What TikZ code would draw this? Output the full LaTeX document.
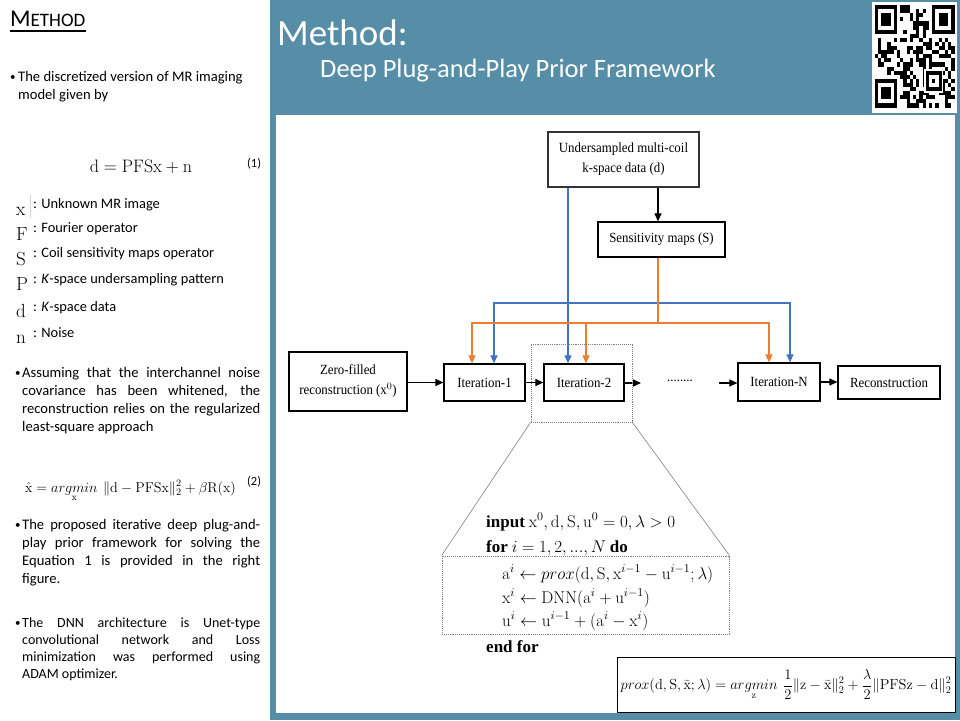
\RequirePackage{fix-cm}
\documentclass[tikz,border=0pt]{standalone}
\usepackage[no-math]{fontspec}
\setmainfont{Carlito}
\newfontfamily\diagfont[FakeStretch=0.92]{Liberation Serif}
\newfontfamily\tmsfont{Liberation Serif}
\usetikzlibrary{arrows.meta}
\definecolor{panelblue}{RGB}{86,142,168}
\definecolor{lnblue}{RGB}{68,114,196}
\definecolor{lnorange}{RGB}{237,125,49}
\newcommand{\kw}[1]{\mbox{\tmsfont\bfseries #1}}
\tikzset{
  boxn/.style={draw=black, line width=1.2pt, inner sep=0pt, align=center,
    font=\diagfont\fontsize{14}{20}\selectfont},
  blk/.style={line width=1.1pt, -{Triangle[length=8pt,width=7pt]}},
  bl/.style={draw=lnblue, line width=1.1pt, -{Triangle[length=8pt,width=7pt]}},
  orl/.style={draw=lnorange, line width=1.1pt, -{Triangle[length=8pt,width=7pt]}},
  lt/.style={anchor=base west, inner sep=0pt, font=\fontsize{14.6}{16}\selectfont},
  lts/.style={anchor=base west, inner sep=0pt, font=\fontsize{14.4}{16}\selectfont},
  ltd/.style={anchor=base west, inner sep=0pt, font=\fontsize{14}{16}\selectfont},
  bul/.style={anchor=base west, inner sep=0pt, font=\fontsize{11}{12}\selectfont},
  sym/.style={anchor=base west, inner sep=0pt, font=\fontsize{19}{20}\selectfont},
  alg/.style={anchor=base west, inner sep=0pt, font=\fontsize{17}{20}\selectfont},
  dotbox/.style={draw=gray, densely dotted, line width=0.9pt, inner sep=0pt},
}
\begin{document}
\begin{tikzpicture}[x=1pt,y=-1pt]
\useasboundingbox (0,0) rectangle (960,720);
\fill[white] (0,0) rectangle (270,720);
\fill[panelblue] (270,0) rectangle (960,720);
\fill[white] (276,115) rectangle (955,713);

% header
\node[anchor=base west, inner sep=0pt, text=white, font=\fontsize{37}{40}\selectfont] (hm) at (277,45) {Method:};
\node[anchor=base west, inner sep=0pt, text=white, font=\fontsize{26.5}{30}\selectfont] (hs) at (320,77) {Deep Plug-and-Play Prior Framework};

% QR code
\fill[white] (872,2) rectangle (957,113);
\begin{scope}[shift={(874.5,5)}, x=3.2pt, y=-4.1pt]
  \pgfmathsetseed{42}
  \foreach \i in {0,...,24}{\foreach \j in {0,...,24}{%
    \pgfmathtruncatemacro\r{rnd<0.47}%
    \ifnum\r=1 \fill (\i,\j) rectangle ++(1,1);\fi}}
  \fill[white] (0,0) rectangle (8,8);
  \fill[white] (17,0) rectangle (25,8);
  \fill[white] (0,17) rectangle (8,25);
  \foreach \a/\b in {0/0,18/0,0/18}{%
    \fill (\a,\b) rectangle ++(7,7);
    \fill[white] (\a+1,\b+1) rectangle ++(5,5);
    \fill (\a+2,\b+2) rectangle ++(3,3);}
  \fill[white] (15.5,15.5) rectangle (21.5,21.5);
  \fill (16,16) rectangle ++(5,5);
  \fill[white] (17,17) rectangle ++(3,3);
  \fill (18,18) rectangle ++(1,1);
\end{scope}

% left panel
\node[anchor=base west, inner sep=0pt] (mt) at (10,27) {{\fontsize{24}{26}\selectfont M}{\fontsize{19}{22}\selectfont ETHOD}};
\draw[line width=1.2pt] (10,31) -- (86,31);

\node[bul] (b1a) at (10,80) {\textbullet};
\node[lt] (t1a) at (18,81) {The discretized version of MR imaging};
\node[lt] (t1b) at (18,99) {model given by};

\node[anchor=base, inner sep=0pt, font=\fontsize{18}{20}\selectfont] (eq1) at (141,172) {$\mathrm{d}=\mathrm{PFSx}+\mathrm{n}$};
\node[anchor=base west, inner sep=0pt, font=\fontsize{12.5}{14}\selectfont] (n1) at (247,167) {(1)};

\node[sym] (sx) at (16,215) {$\mathrm{x}$};
\draw[gray!35, line width=0.6pt] (30,195) -- (30,218);
\node[lts] (dx) at (33,208) {: Unknown MR image};
\node[sym] (sF) at (16,240) {$\mathrm{F}$};
\node[lts] (dF) at (33,232) {: Fourier operator};
\node[sym] (sS) at (16,265) {$\mathrm{S}$};
\node[lts] (dS) at (33,257) {: Coil sensitivity maps operator};
\node[sym] (sP) at (16,290) {$\mathrm{P}$};
\node[lts] (dP) at (33,283) {: \textit{K}-space undersampling pattern};
\node[sym] (sd) at (16,317) {$\mathrm{d}$};
\node[lts] (dd) at (33,311) {: \textit{K}-space data};
\node[sym] (sn) at (16,343) {$\mathrm{n}$};
\node[lts] (dn) at (33,337) {: Noise};

\node[bul] (b2) at (15,376) {\textbullet};
\node[lt] (t2a) at (22,377) {\makebox[238pt][s]{Assuming that the interchannel noise}};
\node[lt] (t2b) at (22,395) {\makebox[238pt][s]{covariance has been whitened, the}};
\node[lt] (t2c) at (22,413) {\makebox[238pt][s]{reconstruction relies on the regularized}};
\node[lt] (t2d) at (22,431) {least-square approach};

\node[anchor=base west, inner sep=0pt, font=\fontsize{14.2}{16}\selectfont] (eq2) at (25,492)
  {$\hat{\mathrm{x}}=\mathop{argmin}\limits_{\mathrm{x}}\ \|\mathrm{d}-\mathrm{PFSx}\|_2^2+\beta\mathrm{R}(\mathrm{x})$};
\node[anchor=base west, inner sep=0pt, font=\fontsize{12.5}{14}\selectfont] (n2) at (247,485) {(2)};

\node[bul] (b3) at (15,528) {\textbullet};
\node[lt] (t3a) at (22,529) {\makebox[238pt][s]{The proposed iterative deep plug-and-}};
\node[lt] (t3b) at (22,547) {\makebox[238pt][s]{play prior framework for solving the}};
\node[lt] (t3c) at (22,565) {\makebox[238pt][s]{Equation 1 is provided in the right}};
\node[lt] (t3d) at (22,583) {figure.};

\node[bul] (b4) at (15,626) {\textbullet};
\node[ltd] (t4a) at (22,627) {\makebox[238pt][s]{The DNN architecture is Unet-type}};
\node[ltd] (t4b) at (22,644) {\makebox[238pt][s]{convolutional network and Loss}};
\node[ltd] (t4c) at (22,661) {\makebox[238pt][s]{minimization was performed using}};
\node[ltd] (t4d) at (22,678) {ADAM optimizer.};

% diagram nodes
\node[boxn, draw=black!80, line width=1.5pt, minimum width=151pt, minimum height=55pt] (kd) at (623.5,159.5) {Undersampled multi-coil\\k-space data (d)};
\node[boxn, minimum width=127pt, minimum height=35pt] (sm) at (661.5,239.5) {Sensitivity maps (S)};
\node[boxn, minimum width=118pt, minimum height=59pt] (zf) at (348,381.5) {Zero-filled\\reconstruction (x$^0$)};
\node[boxn, minimum width=81pt, minimum height=37pt] (it1) at (484.5,382.5) {Iteration-1};
\node[boxn, minimum width=80pt, minimum height=37pt] (it2) at (584,382.5) {Iteration-2};
\node[boxn, minimum width=82pt, minimum height=38pt] (itn) at (779,382) {Iteration-N};
\node[boxn, minimum width=102pt, minimum height=33pt] (rec) at (889,382.5) {Reconstruction};
\node[inner sep=0pt, font=\diagfont\fontsize{14}{16}\selectfont] (dots) at (680,381) {........};

\coordinate (ox) at (658,0);
\coordinate (bx) at (568,0);
\coordinate (b1) at (494,0);
\coordinate (o1) at (472,0);
\coordinate (o2) at (586,0);
\coordinate (bn) at (790,0);
\coordinate (on) at (769,0);
\coordinate (jb) at (568,303);
\coordinate (jo) at (658,323);
\coordinate (da) at (641,383);
\coordinate (db) at (719,383);

\draw[blk] (kd.south -| ox) -- (sm.north -| ox);
\draw[bl] (kd.south -| bx) -- (it2.north -| bx);
\draw[bl] (jb) -| (it1.north -| b1);
\draw[bl] (jb) -| (itn.north -| bn);
\draw[orl] (sm.south -| ox) -- (jo) -| (it1.north -| o1);
\draw[orl] (jo) -| (it2.north -| o2);
\draw[orl] (jo) -| (itn.north -| on);

\draw[blk] (zf.east |- it1.west) -- (it1.west);
\draw[blk] (it1.east) -- (it2.west);
\draw[blk] (it2.east |- da) -- (da);
\draw[blk] (db) -- (itn.west |- db);
\draw[blk] (itn.east) -- (rec.west |- itn.east);

% zoom box and algorithm
\node[dotbox, minimum width=101pt, minimum height=78pt] (zb) at (581.5,383) {};
\node[dotbox, minimum width=287pt, minimum height=78pt] (ab) at (585.5,595) {};
\draw[gray, line width=0.6pt] (zb.south west) -- (ab.north west);
\draw[gray, line width=0.6pt] (zb.south east) -- (ab.north east);

\node[alg] (a0) at (486,527) {$\kw{input}\ \mathrm{x}^0,\mathrm{d},\mathrm{S},\mathrm{u}^0=0,\lambda>0$};
\node[alg] (a1) at (486,552) {$\kw{for}\ i=1,2,...,N\ \kw{do}$};
\node[alg] (a2) at (502,579) {$\mathrm{a}^i\leftarrow prox(\mathrm{d},\mathrm{S},\mathrm{x}^{i-1}-\mathrm{u}^{i-1};\lambda)$};
\node[alg] (a3) at (502,603) {$\mathrm{x}^i\leftarrow\mathrm{DNN}(\mathrm{a}^i+\mathrm{u}^{i-1})$};
\node[alg] (a4) at (502,626) {$\mathrm{u}^i\leftarrow\mathrm{u}^{i-1}+(\mathrm{a}^i-\mathrm{x}^i)$};
\node[alg] (a5) at (486,652) {\kw{end for}};

% prox formula
\node[draw=black, line width=1pt, minimum width=338pt, minimum height=55pt, inner sep=0pt, font=\fontsize{14.5}{16}\selectfont] (px) at (786,684.5)
  {$\displaystyle prox(\mathrm{d},\mathrm{S},\widetilde{\mathrm{x}};\lambda)=\mathop{argmin}\limits_{\mathrm{z}}\ \frac{1}{2}\|\mathrm{z}-\widetilde{\mathrm{x}}\|_2^2+\frac{\lambda}{2}\|\mathrm{PFSz}-\mathrm{d}\|_2^2$};
\end{tikzpicture}
\end{document}
